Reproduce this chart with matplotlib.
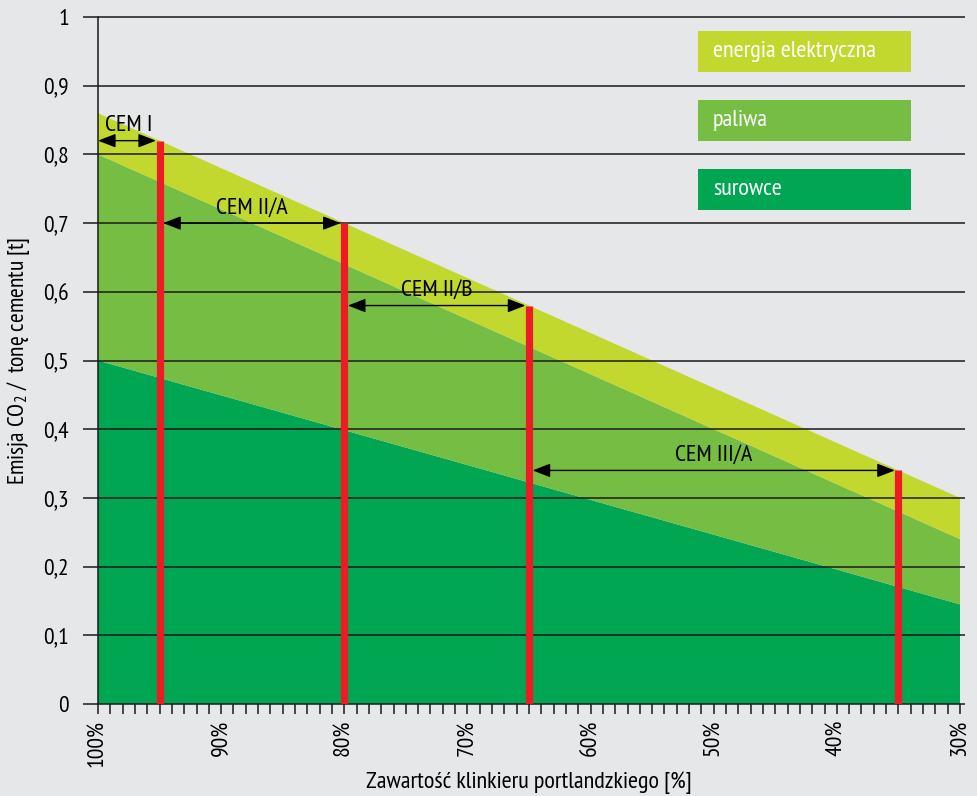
import matplotlib.pyplot as plt
from matplotlib.patches import Rectangle

plt.rcParams['font.family'] = ['PT Sans Narrow', 'DejaVu Sans']
plt.rcParams['mathtext.fontset'] = 'custom'
plt.rcParams['mathtext.rm'] = 'PT Sans Narrow'
plt.rcParams['mathtext.it'] = 'PT Sans Narrow:italic'

# clinker content [%] and CO2 emission components [t / t cementu]
klinkier = [100, 30]
surowce = [0.50, 0.145]
paliwa = [0.30, 0.095]
energia = [0.06, 0.06]

# cement types: clinker ranges and emission at the lower clinker bound
cement_typy = ['CEM I', 'CEM II/A', 'CEM II/B', 'CEM III/A']
granice = [100, 95, 80, 65, 35]
emisja_cem = [0.82, 0.70, 0.58, 0.34]

kolory = ['#00a651', '#76bd43', '#c2d82f']
nazwy = ['surowce', 'paliwa', 'energia elektryczna']
tlo = '#e6e7e8'

fig = plt.figure(figsize=(9.77, 7.96), dpi=100, facecolor=tlo)
ax = fig.add_axes([98 / 977, 92 / 796, 862 / 977, 687 / 796], facecolor=tlo)

ax.stackplot(klinkier, surowce, paliwa, energia, colors=kolory, linewidth=0, zorder=1)

ax.set_xlim(100, 30)
ax.set_ylim(0, 1)

# horizontal grid lines, sticking out a little past both ends
yt = [i / 10 for i in range(11)]
ax.hlines(yt, 100, 29.6, colors='#1a1a1a', linewidth=1.1, clip_on=False, zorder=2)

# red bars for cement types
ax.vlines(granice[1:], 0, emisja_cem, colors='#ed1c24', linewidth=5.2, zorder=4)

# arrows spanning clinker range of each type
for i, typ in enumerate(cement_typy):
    x0, x1, y = granice[i], granice[i + 1], emisja_cem[i]
    ax.annotate('', xy=(x1, y), xytext=(x0, y),
                arrowprops=dict(arrowstyle='<|-|>,head_length=0.9,head_width=0.35',
                                mutation_scale=12, color='black', lw=1.0,
                                shrinkA=0 if i == 0 else 2.6, shrinkB=2.6),
                zorder=5)
    ax.text((x0 + x1) / 2, y + 0.014, typ, ha='center', va='baseline', fontsize=17.5, zorder=5)

# legend boxes
for j, (nazwa, kolor) in enumerate(zip(nazwy[::-1], kolory[::-1])):
    top = 0.9796 - j * 0.1004
    ax.add_patch(Rectangle((0.696, top - 0.0597), 0.247, 0.0597, transform=ax.transAxes,
                           facecolor=kolor, edgecolor='none', zorder=6))
    ax.text(0.7135, top - 0.0298, nazwa, transform=ax.transAxes, color='white',
            ha='left', va='center', fontsize=17.5, zorder=7)

for s in ['top', 'right', 'bottom']:
    ax.spines[s].set_visible(False)
ax.spines['left'].set_linewidth(1.1)
ax.spines['left'].set_color('#1a1a1a')

ax.set_yticks(yt)
ax.set_yticklabels(['0'] + [f'0,{i}' for i in range(1, 10)] + ['1'], fontsize=17)
ax.tick_params(axis='y', length=11, width=1.1, color='#1a1a1a', pad=10)

ax.set_xticks(range(100, 29, -10))
ax.set_xticklabels([f'{v}%' for v in range(100, 29, -10)], rotation=90, fontsize=17)
ax.set_xticks(range(100, 29, -1), minor=True)
ax.tick_params(axis='x', which='both', length=7.5, width=1.1, color='#1a1a1a', pad=4)

ax.set_xlabel('Zawartość klinkieru portlandzkiego [%]', fontsize=17.5, labelpad=3)
ax.set_ylabel('Emisja CO$_2$ /  tonę cementu [t]', fontsize=17, labelpad=8)

fig.savefig('out.png', dpi=100, facecolor=tlo)
